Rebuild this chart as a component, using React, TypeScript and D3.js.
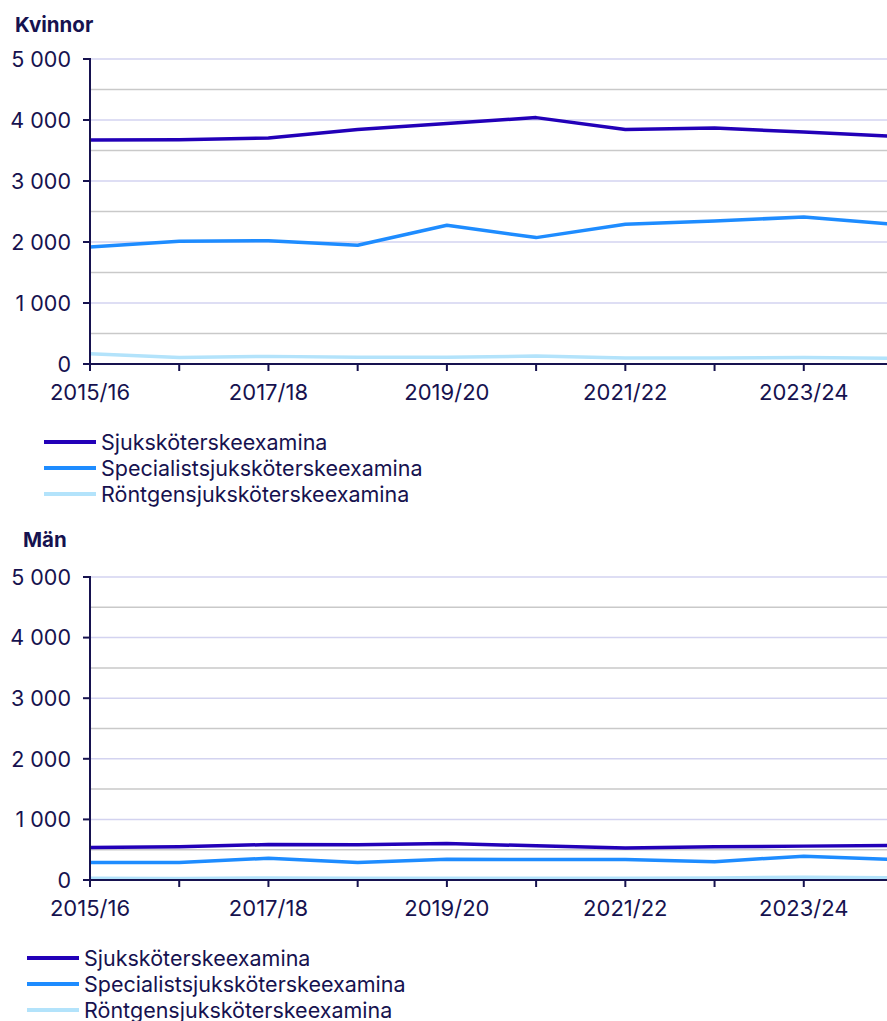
import React from 'react';
import * as d3 from 'd3';

const years = ['2015/16', '2016/17', '2017/18', '2018/19', '2019/20', '2020/21', '2021/22', '2022/23', '2023/24', '2024/25'];
const seriesNames = ['Sjuksköterskeexamina', 'Specialistsjuksköterskeexamina', 'Röntgensjuksköterskeexamina'];

// Kvinnor
const womenSjuk = [3672, 3675, 3705, 3843, 3941, 4039, 3843, 3869, 3803, 3734];
const womenSpec = [1918, 2011, 2020, 1946, 2274, 2072, 2290, 2344, 2410, 2290];
const womenRont = [170, 105, 125, 110, 110, 130, 100, 100, 105, 95];

// Män
const menSjuk = [535, 547, 585, 580, 602, 564, 526, 547, 559, 570];
const menSpec = [287, 287, 360, 287, 343, 337, 337, 303, 393, 337];
const menRont = [28, 25, 35, 30, 30, 30, 30, 35, 45, 35];

const yTicks = [0, 1000, 2000, 3000, 4000, 5000];
const minorTicks = [500, 1500, 2500, 3500, 4500];

const colors = ['#2200b8', '#1e8cff', '#b3e3fb'];
const ink = '#16124f';
const font = 'Inter, "Noto Sans", sans-serif';

const fmt = d3.formatLocale({ decimal: ',', thousands: '\u00a0', grouping: [3], currency: ['', ' kr'] }).format(',d');

function Panel({ title, top, plotTop, plotBottom, titleX, legendX, series }) {
    const yTop = plotTop;
    const yBottom = plotBottom;
    const x = d3.scaleLinear().domain([0, years.length - 1]).range([90, 893]);
    const y = d3.scaleLinear().domain([0, 5000]).range([yBottom, yTop]);
    const line = d3.line<number>().x((d, i) => x(i)).y((d) => y(d));

    return (
        <g>
            <text x={titleX} y={top + 32} fontSize={20.5} fontWeight="bold" fill={ink} fontFamily={font}>{title}</text>
            {minorTicks.map((t) => (
                <line key={'m' + t} x1={90} x2={887} y1={y(t)} y2={y(t)} stroke="#c9c9c9" strokeWidth={1.5} />
            ))}
            {yTicks.filter((t) => t > 0).map((t) => (
                <line key={'g' + t} x1={90} x2={887} y1={y(t)} y2={y(t)} stroke="#d3d3f0" strokeWidth={1.5} />
            ))}
            {series.map((s, i) => (
                <path key={i} d={line(s)} fill="none" stroke={colors[i]} strokeWidth={3.5} strokeLinejoin="round" />
            ))}
            {/* y axis */}
            <line x1={90} x2={90} y1={yTop - 1} y2={yBottom} stroke={ink} strokeWidth={2} />
            {yTicks.map((t) => (
                <g key={'y' + t}>
                    <line x1={83} x2={90} y1={y(t)} y2={y(t)} stroke={ink} strokeWidth={2} />
                    <text x={71} y={y(t)} dy="0.36em" textAnchor="end" fontSize={21.5} fill={ink} fontFamily={font}>{fmt(t)}</text>
                </g>
            ))}
            {/* x axis */}
            <line x1={89} x2={887} y1={yBottom} y2={yBottom} stroke={ink} strokeWidth={2} />
            {years.map((yr, i) => (
                <g key={yr}>
                    <line x1={x(i)} x2={x(i)} y1={yBottom} y2={yBottom + 7} stroke={ink} strokeWidth={2} />
                    {i % 2 === 0 && (
                        <text x={x(i)} y={yBottom + 36} textAnchor="middle" fontSize={22} fill={ink} fontFamily={font}>{yr}</text>
                    )}
                </g>
            ))}
            {/* legend */}
            {seriesNames.map((name, i) => (
                <g key={name}>
                    <line x1={legendX} x2={legendX + 52} y1={yBottom + 78 + i * 26} y2={yBottom + 78 + i * 26} stroke={colors[i]} strokeWidth={4} />
                    <text x={legendX + 57} y={yBottom + 78 + i * 26} dy="0.36em" fontSize={21.5} fill={ink} fontFamily={font}>{name}</text>
                </g>
            ))}
        </g>
    );
}

export default function App() {
    return (
        <svg width={887} height={1021} style={{ position: 'absolute', left: 0, top: 0, background: '#fff' }}>
            <Panel title="Kvinnor" top={0} plotTop={59} plotBottom={364} titleX={15} legendX={44} series={[womenSjuk, womenSpec, womenRont]} />
            <Panel title="Män" top={515} plotTop={577} plotBottom={880} titleX={23} legendX={27} series={[menSjuk, menSpec, menRont]} />
        </svg>
    );
}
